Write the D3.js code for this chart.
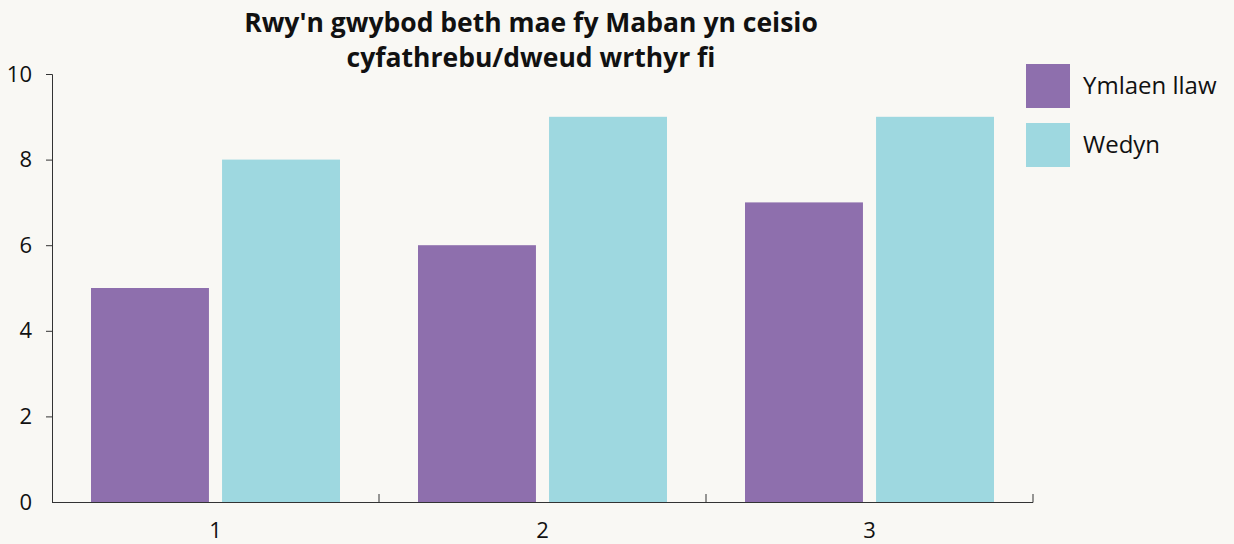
<!DOCTYPE html>
<html>
<head>
<meta charset="utf-8">
<script src="https://cdn.jsdelivr.net/npm/d3@7"></script>
<style>
  body { margin: 0; background: #f9f8f4; }
  svg { display: block; font-family: "Open Sans", Lato, sans-serif; }
</style>
</head>
<body>
<svg id="chart"></svg>
<script>
const categories = ['1', '2', '3'];
const seriesNames = ['Ymlaen llaw', 'Wedyn'];
const before = [5, 6, 7];
const after = [8, 9, 9];
const yTicks = [0, 2, 4, 6, 8, 10];
const titleLines = ["Rwy'n gwybod beth mae fy Maban yn ceisio", 'cyfathrebu/dweud wrthyr fi'];
const colors = ['#8e6fad', '#9ed8e0'];

const width = 1234, height = 544;
const margin = { top: 74, right: 201, bottom: 42, left: 52 };
const innerW = width - margin.left - margin.right;
const innerH = height - margin.top - margin.bottom;
const font = '"Open Sans", sans-serif';

const svg = d3.select('#chart')
  .attr('width', width)
  .attr('height', height);

const chart = svg.append('g')
  .attr('transform', `translate(${margin.left},${margin.top})`);

const x = d3.scaleBand()
  .domain(categories)
  .range([0, innerW]);

const xInner = d3.scaleBand()
  .domain(seriesNames)
  .range([39, x.bandwidth() - 39])
  .paddingInner(0.1);

const y = d3.scaleLinear()
  .domain([0, 10])
  .range([innerH, 0]);

const rows = categories.map((c, i) => ({ cat: c, values: [before[i], after[i]] }));

// bars
const groups = chart.selectAll('.group')
  .data(rows)
  .enter()
  .append('g')
  .attr('transform', d => `translate(${x(d.cat)},0)`);

groups.selectAll('rect')
  .data(d => d.values.map((v, i) => ({ key: seriesNames[i], value: v, i })))
  .enter()
  .append('rect')
  .attr('x', d => xInner(d.key))
  .attr('y', d => y(d.value))
  .attr('width', xInner.bandwidth())
  .attr('height', d => innerH - y(d.value))
  .attr('fill', d => colors[d.i]);

// y axis
const yAxis = chart.append('g')
  .call(d3.axisLeft(y).tickValues(yTicks).tickSize(6).tickPadding(14));
yAxis.select('.domain').attr('d', `M-6,0.5H0.5V${innerH}`).attr('stroke', '#333');
yAxis.selectAll('.tick line').attr('stroke', '#333');
yAxis.selectAll('.tick').filter(d => d === 0).select('line').remove();
yAxis.selectAll('text')
  .attr('font-size', 22)
  .attr('fill', '#111')
  .attr('font-family', font);

// x axis: band edges as ticks pointing up
const xAxis = chart.append('g')
  .attr('transform', `translate(0,${innerH})`)
  .call(d3.axisBottom(x).tickSize(0).tickPadding(20));
xAxis.select('.domain').attr('d', `M0,0.5H${innerW}`).attr('stroke', '#333');
xAxis.selectAll('text')
  .attr('font-size', 22)
  .attr('fill', '#111')
  .attr('font-family', font);

xAxis.selectAll('.edge')
  .data(categories)
  .enter()
  .append('line')
  .attr('x1', d => x(d) + x.bandwidth())
  .attr('x2', d => x(d) + x.bandwidth())
  .attr('y1', -8)
  .attr('y2', 0.5)
  .attr('stroke', '#333');

// title
svg.append('text')
  .attr('x', 531)
  .attr('y', 32)
  .attr('text-anchor', 'middle')
  .attr('font-size', 26.5)
  .attr('font-weight', 'bold')
  .attr('fill', '#111')
  .selectAll('tspan')
  .data(titleLines)
  .enter()
  .append('tspan')
  .attr('x', 531)
  .attr('dy', (d, i) => i === 0 ? 0 : 35)
  .text(d => d);

// legend
const legend = svg.append('g')
  .attr('transform', 'translate(1026,64)');

const li = legend.selectAll('g')
  .data(seriesNames)
  .enter()
  .append('g')
  .attr('transform', (d, i) => `translate(0,${i * 59})`);

li.append('rect')
  .attr('width', 44)
  .attr('height', 44)
  .attr('fill', (d, i) => colors[i]);

li.append('text')
  .attr('x', 57)
  .attr('y', 22)
  .attr('dy', '0.35em')
  .attr('font-size', 24)
  .attr('fill', '#111')
  .text(d => d);
</script>
</body>
</html>
